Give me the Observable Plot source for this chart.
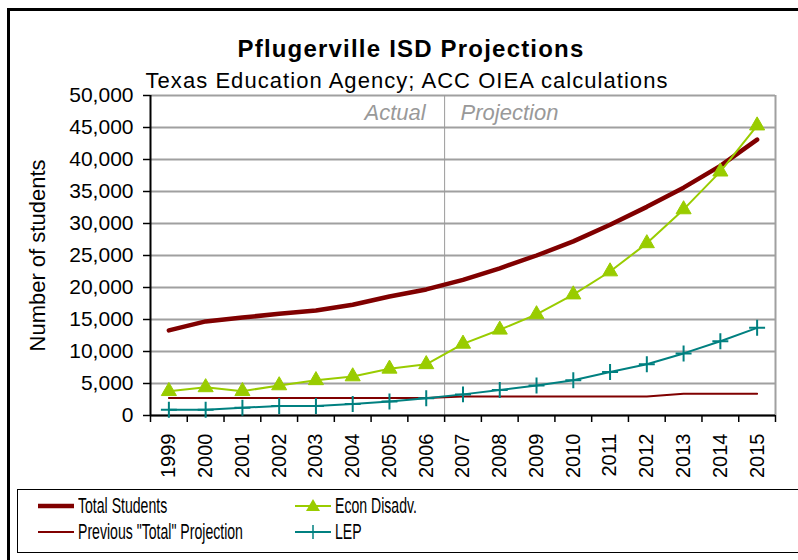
<!DOCTYPE html>
<html>
<head>
<meta charset="utf-8">
<script src="https://cdn.jsdelivr.net/npm/d3@7"></script>
<script src="https://cdn.jsdelivr.net/npm/@observablehq/plot@0.6"></script>
<style>
  html, body { margin: 0; padding: 0; background: #fff; overflow: hidden; width: 798px; height: 560px; }
  body { font-family: "Liberation Sans", Arial, sans-serif; position: relative; }
  #frame { position: absolute; left: 7px; top: 8px; width: 900px; height: 700px; border: 3px solid #000; box-sizing: border-box; }
  #header { position: relative; height: 80px; }
  #title { position: absolute; left: 0; width: 822px; top: 35px; text-align: center; font-weight: bold; font-size: 24px; letter-spacing: 1.2px; color: #000; white-space: nowrap; }
  #subtitle { position: absolute; left: 0; width: 814px; top: 68px; text-align: center; font-size: 22px; letter-spacing: 1.05px; color: #000; white-space: nowrap; }
  #plot { position: relative; height: 409px; }
  #legend { position: absolute; left: 17px; top: 489px; width: 900px; height: 64px; border: 1.5px solid #000; box-sizing: border-box; background: #fff; }
  .item { position: absolute; height: 26px; display: flex; align-items: center; }
  .item svg { flex: none; }
  .item span { display: inline-block; font-size: 22px; transform: scaleX(0.64); transform-origin: left center; white-space: nowrap; margin-left: 4px; color: #000; }
</style>
</head>
<body>
<div id="frame"></div>
<div id="header">
  <div id="title">Pflugerville ISD Projections</div>
  <div id="subtitle">Texas Education Agency; ACC OIEA calculations</div>
</div>
<div id="plot"></div>
<div id="legend"></div>
<script>
const years = [1999,2000,2001,2002,2003,2004,2005,2006,2007,2008,2009,2010,2011,2012,2013,2014,2015];
const totalStudents = [13300,14700,15300,15900,16400,17300,18600,19700,21200,23000,25000,27200,29800,32600,35600,39000,43100];
const previousTotal = [2750,2750,2750,2750,2750,2750,2750,2750,2950,2950,2950,2950,2950,2950,3400,3400,3400];
const econDisadv = [3800,4400,3800,4700,5500,6100,7300,8000,11200,13400,15800,18900,22500,26900,32200,38100,45300];
const lep = [900,900,1200,1500,1500,1800,2200,2700,3300,4000,4700,5500,6800,8000,9700,11600,13700];
const yTicks = [0,5000,10000,15000,20000,25000,30000,35000,40000,45000,50000];
const seriesNames = ["Total Students","Previous \"Total\" Projection","Econ Disadv.","LEP"];
const periodLabels = ["Actual","Projection"];
const splitYear = 2006.5;

const colors = {total: "#800000", prev: "#800000", econ: "#99CC00", lep: "#008080"};

const table = (vals) => years.map((y, i) => ({year: y, value: vals[i]}));
const boundaries = years.map(y => y - 0.5).concat([years[years.length-1] + 0.5]);

const chart = Plot.plot({
  width: 798,
  height: 409,
  marginLeft: 150,
  marginRight: 23,
  marginTop: 15,
  marginBottom: 74,
  style: {fontFamily: "'Liberation Sans', Arial, sans-serif", fontSize: "21px", color: "#000", background: "transparent", overflow: "visible"},
  x: {domain: [years[0] - 0.5, years[years.length-1] + 0.5], axis: null},
  y: {domain: [0, 50000], axis: null},
  marks: [
    Plot.gridY(yTicks, {stroke: "#a0a0a0", strokeOpacity: 1, strokeWidth: 2}),
    Plot.ruleX([boundaries[boundaries.length-1]], {stroke: "#a0a0a0", strokeWidth: 2}),
    Plot.ruleX([splitYear], {stroke: "#9a9a9a", strokeWidth: 1}),
    Plot.axisY(yTicks, {tickSize: 7, tickPadding: 10, tickFormat: d3.format(","), fontSize: 21, stroke: "#000", strokeWidth: 1.5}),
    Plot.axisX(boundaries, {tickSize: 7, tickFormat: () => "", stroke: "#000", strokeWidth: 1.5}),
    Plot.axisX(years, {tickSize: 0, tickPadding: 18, tickRotate: -90, tickFormat: d => String(d), fontSize: 20}),
    Plot.ruleX([boundaries[0]], {stroke: "#000", strokeWidth: 2}),
    Plot.ruleY([0], {stroke: "#000", strokeWidth: 2}),
    Plot.text(["Number of students"], {frameAnchor: "left", textAnchor: "middle", dx: -113, rotate: -90, fontSize: 22, fill: "#000"}),
    Plot.text([{x: splitYear, y: 50000, t: periodLabels[0]}], {x: "x", y: "y", text: "t", textAnchor: "end", dx: -19, dy: 17, fontStyle: "italic", fontSize: 22, fill: "#999"}),
    Plot.text([{x: splitYear, y: 50000, t: periodLabels[1]}], {x: "x", y: "y", text: "t", textAnchor: "start", dx: 16, dy: 17, fontStyle: "italic", fontSize: 22, fill: "#999"}),
    Plot.line(table(previousTotal), {x: "year", y: "value", stroke: colors.prev, strokeWidth: 2}),
    Plot.line(table(totalStudents), {x: "year", y: "value", stroke: colors.total, strokeWidth: 4.5, strokeLinecap: "round"}),
    Plot.line(table(econDisadv), {x: "year", y: "value", stroke: colors.econ, strokeWidth: 2}),
    Plot.dot(table(econDisadv), {x: "year", y: "value", symbol: "triangle", r: 5.6, fill: colors.econ, stroke: colors.econ, strokeWidth: 1}),
    Plot.line(table(lep), {x: "year", y: "value", stroke: colors.lep, strokeWidth: 2}),
    Plot.dot(table(lep), {x: "year", y: "value", symbol: "plus", r: 5.2, stroke: colors.lep, strokeWidth: 2})
  ]
});
document.getElementById("plot").appendChild(chart);

// Legend
const legend = document.getElementById("legend");
const items = [
  {name: seriesNames[0], left: 20, top: 3, color: colors.total, w: 4.5, marker: null},
  {name: seriesNames[1], left: 20, top: 29, color: colors.prev, w: 2, marker: null},
  {name: seriesNames[2], left: 277, top: 3, color: colors.econ, w: 2, marker: "triangle"},
  {name: seriesNames[3], left: 277, top: 29, color: colors.lep, w: 2, marker: "plus"}
];
for (const it of items) {
  const div = document.createElement("div");
  div.className = "item";
  div.style.left = it.left + "px";
  div.style.top = it.top + "px";
  let mk = "";
  if (it.marker === "triangle") {
    mk = `<path d="M18,6 L25,18 L11,18 Z" fill="${it.color}"/>`;
  } else if (it.marker === "plus") {
    mk = `<path d="M18,6 V20 M11,13 H25" stroke="${it.color}" stroke-width="1.5"/>`;
  }
  div.innerHTML = `<svg width="36" height="26" viewBox="0 0 36 26"><line x1="0" x2="36" y1="13" y2="13" stroke="${it.color}" stroke-width="${it.w}" stroke-linecap="round"/>${mk}</svg><span>${it.name}</span>`;
  legend.appendChild(div);
}
</script>
</body>
</html>
